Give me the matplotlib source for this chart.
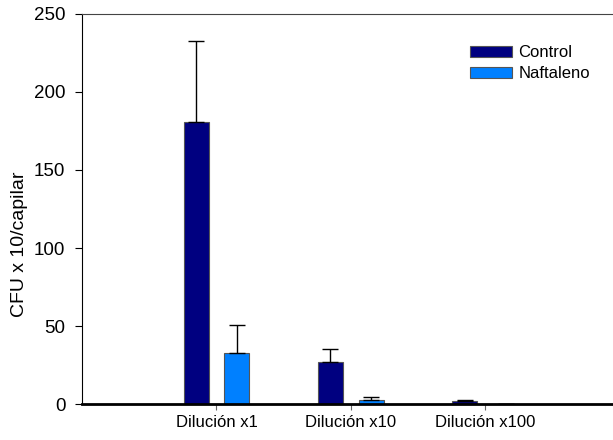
import numpy as np
import matplotlib.pyplot as plt

plt.rcParams['font.family'] = ['Liberation Sans', 'DejaVu Sans']

# datos: media y error (solo hacia arriba)
categorias = ['Dilución x1', 'Dilución x10', 'Dilución x100']
control = [181, 27, 1.7]
control_err = [52, 8.4, 0.7]
naftaleno = [33, 2.6, 0]
naftaleno_err = [17.5, 1.7, 0]

x = np.array([1, 2, 3])
ancho = 0.186
desp = 0.152

fig = plt.figure(figsize=(6.13, 4.40), dpi=100)
ax = fig.add_axes([0.1338, 0.0818, 0.8662, 0.8864])

ax.bar(x - desp, control, ancho, color='#000080', edgecolor='#555555', linewidth=0.8,
       label='Control')
ax.bar(x + desp, naftaleno, ancho, color='#0080ff', edgecolor='#555555', linewidth=0.8,
       label='Naftaleno')

# barras de error hacia arriba
ax.errorbar(x - desp, control, yerr=[np.zeros(3), control_err], fmt='none',
            ecolor='black', elinewidth=1, capsize=6, capthick=1)
ax.errorbar(x + desp, naftaleno, yerr=[np.zeros(3), naftaleno_err], fmt='none',
            ecolor='black', elinewidth=1, capsize=6, capthick=1)

ax.set_xlim(0, 3.95)
ax.set_ylim(0, 250)
ax.set_yticks([0, 50, 100, 150, 200, 250])
ax.set_xticks(x)
ax.set_xticklabels(categorias)
ax.set_ylabel('CFU x 10/capilar', fontsize=14)
ax.yaxis.set_label_coords(-0.102, 0.41)

ax.tick_params(axis='y', direction='out', length=5, width=0.8, labelsize=13.5, pad=7,
               colors='black')
ax.tick_params(axis='x', direction='out', length=4, width=0.8, labelsize=12, pad=4,
               color='#666666')

ax.spines['right'].set_visible(False)
ax.spines['top'].set_linewidth(0.8)
ax.spines['top'].set_color('#444444')
ax.spines['left'].set_linewidth(0.8)
ax.spines['bottom'].set_linewidth(2)

ax.legend(loc='upper right', bbox_to_anchor=(0.987, 0.931), bbox_transform=fig.transFigure,
          frameon=False, fontsize=12, handlelength=2.5, handleheight=0.6,
          handletextpad=0.4, labelspacing=0.35)

fig.savefig('out.png', dpi=100)
